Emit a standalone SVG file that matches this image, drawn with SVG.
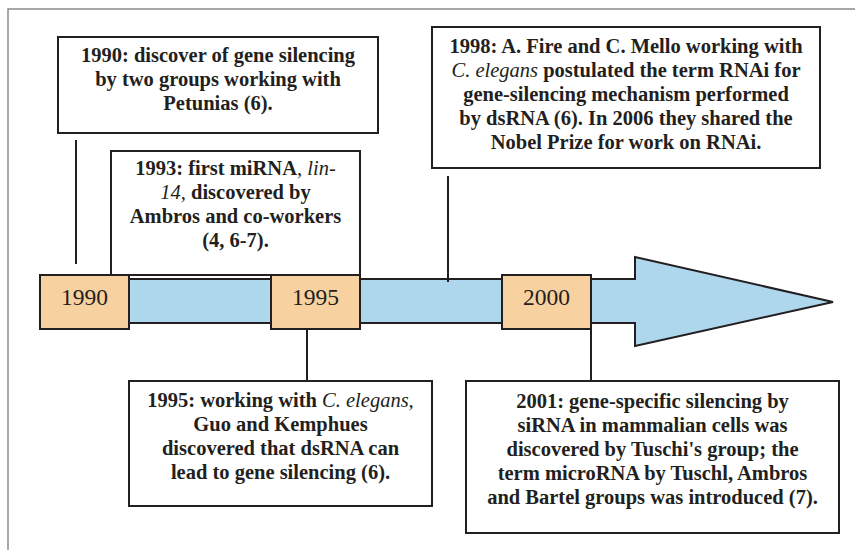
<svg xmlns="http://www.w3.org/2000/svg" width="855" height="550" viewBox="0 0 855 550">
<style>
.frame{fill:none;stroke:#8a8a8a;stroke-width:1.5}
.box{fill:#ffffff;stroke:#231f20;stroke-width:2}
.year{fill:#f8d1a1;stroke:#231f20;stroke-width:2}
.bar{fill:#aed7ee;stroke:#231f20;stroke-width:2;stroke-linejoin:miter}
.conn{stroke:#231f20;stroke-width:2;fill:none}
.t{font-family:'Liberation Serif','DejaVu Serif',serif;font-weight:bold;font-size:20.5px;fill:#231f20;text-anchor:middle}
.i{font-style:italic;font-weight:normal}
.y{font-family:'Liberation Serif','DejaVu Serif',serif;font-size:23.5px;fill:#231f20;text-anchor:middle}
</style>
<rect width="855" height="550" fill="#ffffff"/>
<path class="frame" d="M8,550 V9 H855"/>

<g id="timeline">
<path class="bar" d="M40,279 H635 V257 L833,302 L635,346 V323 H40 Z"/>
</g>

<g id="connectors">
<line class="conn" x1="76" y1="140" x2="76" y2="264"/>
<line class="conn" x1="448" y1="176" x2="448" y2="282"/>
<line class="conn" x1="307" y1="329" x2="307" y2="381"/>
<line class="conn" x1="591" y1="329" x2="591" y2="381"/>
</g>

<g id="event-1990">
<rect class="box" x="58" y="37" width="320" height="96"/>
<text class="t" x="218" y="62">1990: discover of gene silencing</text>
<text class="t" x="218" y="86">by two groups working with</text>
<text class="t" x="218" y="110">Petunias (6).</text>
</g>

<g id="event-1993">
<rect class="box" x="111" y="151" width="249" height="124"/>
<text class="t" x="235.5" y="175">1993: first miRNA<tspan class="i">,</tspan> <tspan class="i">lin-</tspan></text>
<text class="t" x="235.5" y="199"><tspan class="i">14,</tspan> discovered by</text>
<text class="t" x="235.5" y="223">Ambros and co-workers</text>
<text class="t" x="235.5" y="247">(4, 6-7).</text>
</g>

<g id="event-1998">
<rect class="box" x="432" y="27" width="388" height="141"/>
<text class="t" x="626" y="53">1998: A. Fire and C. Mello working with</text>
<text class="t" x="626" y="77"><tspan class="i">C. elegans</tspan> postulated the term RNAi for</text>
<text class="t" x="626" y="101">gene-silencing mechanism performed</text>
<text class="t" x="626" y="125">by dsRNA (6). In 2006 they shared the</text>
<text class="t" x="626" y="149">Nobel Prize for work on RNAi.</text>
</g>

<g id="year-1990">
<rect class="year" x="40" y="275" width="89" height="54"/>
<text class="y" x="84.5" y="305">1990</text>
</g>
<g id="year-1995">
<rect class="year" x="271" y="275" width="89" height="54"/>
<text class="y" x="315.5" y="305">1995</text>
</g>
<g id="year-2000">
<rect class="year" x="502" y="275" width="89" height="54"/>
<text class="y" x="546.5" y="305">2000</text>
</g>

<g id="event-1995">
<rect class="box" x="129" y="381" width="303" height="125"/>
<text class="t" x="280.5" y="407">1995: working with <tspan class="i">C. elegans,</tspan></text>
<text class="t" x="280.5" y="431">Guo and Kemphues</text>
<text class="t" x="280.5" y="455">discovered that dsRNA can</text>
<text class="t" x="280.5" y="479">lead to gene silencing (6).</text>
</g>

<g id="event-2001">
<rect class="box" x="466" y="381" width="373" height="152"/>
<text class="t" x="652.5" y="408">2001: gene-specific silencing by</text>
<text class="t" x="652.5" y="432">siRNA in mammalian cells was</text>
<text class="t" x="652.5" y="456">discovered by Tuschi's group; the</text>
<text class="t" x="652.5" y="480">term microRNA by Tuschl, Ambros</text>
<text class="t" x="652.5" y="504">and Bartel groups was introduced (7).</text>
</g>
</svg>
